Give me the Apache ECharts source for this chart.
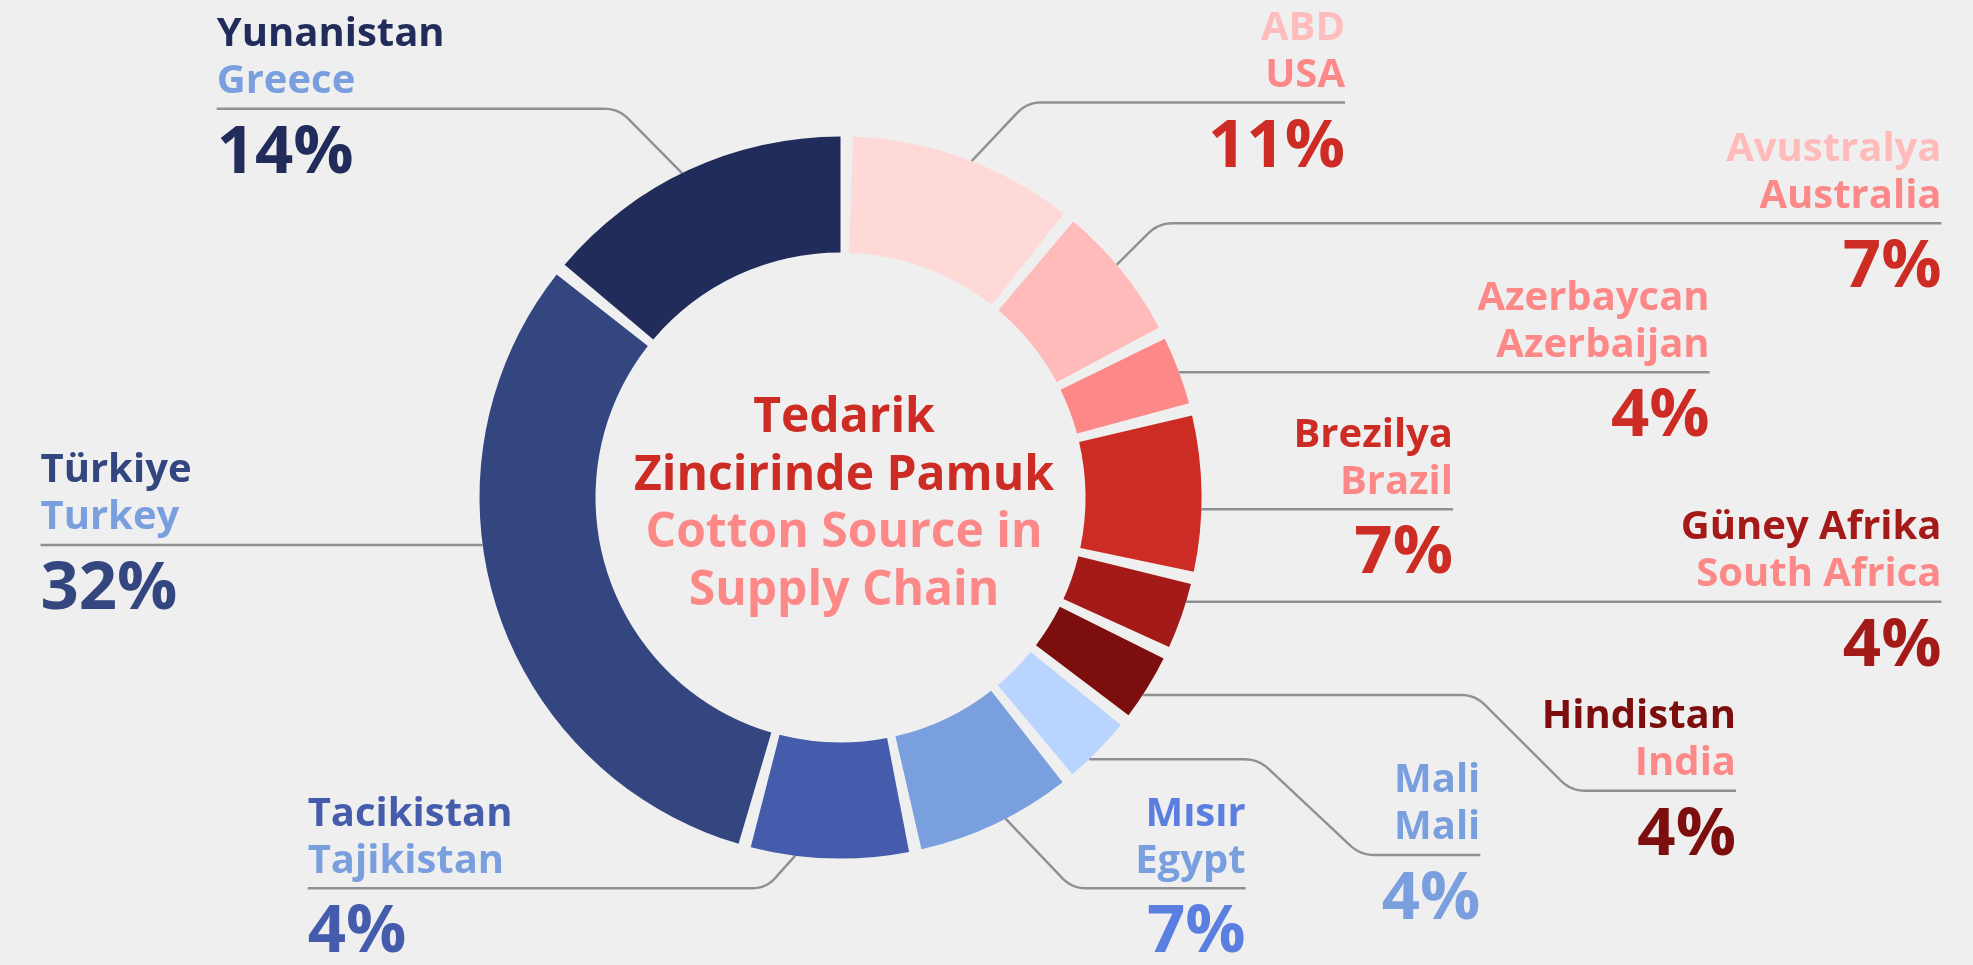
<!DOCTYPE html>
<html>
<head>
<meta charset="utf-8">
<script src="https://cdn.jsdelivr.net/npm/echarts@6/dist/echarts.min.js"></script>
<style>
html,body{margin:0;padding:0;background:#efefef;}
#c{width:1973px;height:965px;}
</style>
</head>
<body>
<div id="c"></div>
<script>
// ---- data ----
const namesTr = ['ABD', 'Avustralya', 'Azerbaycan', 'Brezilya', 'Güney Afrika', 'Hindistan', 'Mali', 'Mısır', 'Tacikistan', 'Türkiye', 'Yunanistan'];
const namesEn = ['USA', 'Australia', 'Azerbaijan', 'Brazil', 'South Africa', 'India', 'Mali', 'Egypt', 'Tajikistan', 'Turkey', 'Greece'];
const shares = [10.6, 6.6, 3.6, 7.5, 3.5, 3.5, 3.6, 7.5, 7.6, 31.6, 14.4];
const pctLabels = ['11%', '7%', '4%', '7%', '4%', '4%', '4%', '7%', '4%', '32%', '14%'];
const titleTr = ['Tedarik', 'Zincirinde Pamuk'];
const titleEn = ['Cotton Source in', 'Supply Chain'];

// ---- styles ----
const sliceColors = ['#ffd8d8', '#ffbaba', '#fd8888', '#cc2c24', '#a41a18', '#7c0e0e', '#b8d4ff', '#7a9fdf', '#445cab', '#34467f', '#222c5b'];
const trColors    = ['#ffbcbc', '#ffbaba', '#fd8888', '#cc2c24', '#a41a18', '#7c0e0e', '#7a9fdf', '#5b7fe0', '#445cab', '#34467f', '#222c5b'];
const enColors    = ['#fd8888', '#fd8888', '#fd8888', '#fd8888', '#fd8888', '#fd8888', '#7a9fdf', '#7a9fdf', '#7a9fdf', '#7a9fdf', '#7a9fdf'];
const pctColors   = ['#cc2c24', '#cc2c24', '#cc2c24', '#cc2c24', '#a41a18', '#7c0e0e', '#7a9fdf', '#5b7fe0', '#445cab', '#34467f', '#222c5b'];
const FONT = 'Open Sans';

// ---- layout ----
const CX = 840.5, CY = 497.5, R0 = 245, R1 = 361;
const labelGeo = [
  {side: 'r', ang: 21.3, via: [[1027, 102.5]], y: 102.5, end: 1345},
  {side: 'r', ang: 49.9, via: [[1158.4, 223.3]], y: 223.3, end: 1941.5},
  {side: 'r', ringY: 372.3, via: [], y: 372.3, end: 1709.6},
  {side: 'r', ringY: 509.3, via: [], y: 509.3, end: 1453},
  {side: 'r', ringY: 601.7, via: [], y: 601.7, end: 1941.5},
  {side: 'r', ringY: 695, via: [[1475, 695], [1571, 790.7]], y: 790.7, end: 1736},
  {side: 'r', ringY: 759.3, via: [[1258.4, 759.3], [1360.3, 855]], y: 855, end: 1480.3},
  {side: 'r', ang: 152.8, via: [[1072, 888.3]], y: 888.3, end: 1245.6},
  {side: 'l', ang: 187.2, via: [[766, 888.3]], y: 888.3, end: 307.7},
  {side: 'l', ringY: 545, via: [], y: 545, end: 40.5},
  {side: 'l', ang: 333.95, via: [[618.3, 108.7]], y: 108.7, end: 216.7}
];

function startPoint(g) {
  if (g.ringY !== undefined) {
    const dy = g.ringY - CY;
    const dx = Math.sqrt(R1 * R1 - dy * dy);
    return [g.side === 'r' ? CX + dx : CX - dx, g.ringY];
  }
  const a = g.ang * Math.PI / 180;
  return [CX + R1 * Math.sin(a), CY - R1 * Math.cos(a)];
}
function roundCorners(pts, r) {
  const out = [pts[0]];
  for (let i = 1; i < pts.length - 1; i++) {
    const p = pts[i], a = pts[i - 1], b = pts[i + 1];
    const d1 = Math.hypot(p[0] - a[0], p[1] - a[1]);
    const d2 = Math.hypot(b[0] - p[0], b[1] - p[1]);
    const rr = Math.min(r, d1 / 2, d2 / 2);
    const s = [p[0] + (a[0] - p[0]) * rr / d1, p[1] + (a[1] - p[1]) * rr / d1];
    const e = [p[0] + (b[0] - p[0]) * rr / d2, p[1] + (b[1] - p[1]) * rr / d2];
    const n = 8;
    for (let k = 0; k <= n; k++) {
      const t = k / n;
      const x = (1 - t) * (1 - t) * s[0] + 2 * (1 - t) * t * p[0] + t * t * e[0];
      const y = (1 - t) * (1 - t) * s[1] + 2 * (1 - t) * t * p[1] + t * t * e[1];
      out.push([x, y]);
    }
  }
  out.push(pts[pts.length - 1]);
  return out;
}

const chart = echarts.init(document.getElementById('c'), null, {renderer: 'canvas'});

const data = shares.map((v, i) => ({
  value: v,
  name: namesEn[i],
  itemStyle: {color: sliceColors[i]},
  label: {
    rich: {
      t: {fontFamily: FONT, fontWeight: 'bold', fontSize: 40, lineHeight: 47, color: trColors[i]},
      e: {fontFamily: FONT, fontWeight: 'bold', fontSize: 40, lineHeight: 47, color: enColors[i]},
      p: {fontFamily: FONT, fontWeight: 'bold', fontSize: 67, lineHeight: 97, color: pctColors[i]}
    }
  }
}));

const option = {
  backgroundColor: '#efefef',
  animation: false,
  series: [{
    type: 'pie',
    center: [CX, CY],
    radius: [R0, R1],
    startAngle: 89,
    clockwise: true,
    padAngle: 2,
    avoidLabelOverlap: false,
    silent: true,
    emphasis: {disabled: true},
    data: data,
    label: {
      show: true,
      position: 'outside',
      fontFamily: FONT,
      fontWeight: 'bold',
      formatter: (p) => '{t|' + namesTr[p.dataIndex] + '}\n{e|' + namesEn[p.dataIndex] + '}\n{p|' + pctLabels[p.dataIndex] + '}'
    },
    labelLine: {
      show: true,
      smooth: false,
      lineStyle: {color: '#8e9194', width: 2.4}
    },
    labelLayout: function (params) {
      const g = labelGeo[params.dataIndex];
      const pts = [startPoint(g)].concat(g.via).concat([[g.end, g.y]]);
      return {
        x: g.end,
        y: g.y - 97.5,
        align: g.side === 'r' ? 'right' : 'left',
        verticalAlign: 'top',
        labelLinePoints: roundCorners(pts, 14)
      };
    }
  }],
  graphic: [{
    type: 'text',
    x: 844,
    y: 505,
    silent: true,
    style: {
      text: '{a|' + titleTr[0] + '}\n{a|' + titleTr[1] + '}\n{b|' + titleEn[0] + '}\n{b|' + titleEn[1] + '}',
      align: 'center',
      verticalAlign: 'middle',
      rich: {
        a: {fontFamily: FONT, fontWeight: 'bold', fontSize: 48, lineHeight: 57.5, fill: '#cc2c24', align: 'center'},
        b: {fontFamily: FONT, fontWeight: 'bold', fontSize: 48, lineHeight: 57.5, fill: '#fd8888', align: 'center'}
      }
    }
  }]
};
chart.setOption(option);
</script>
</body>
</html>
